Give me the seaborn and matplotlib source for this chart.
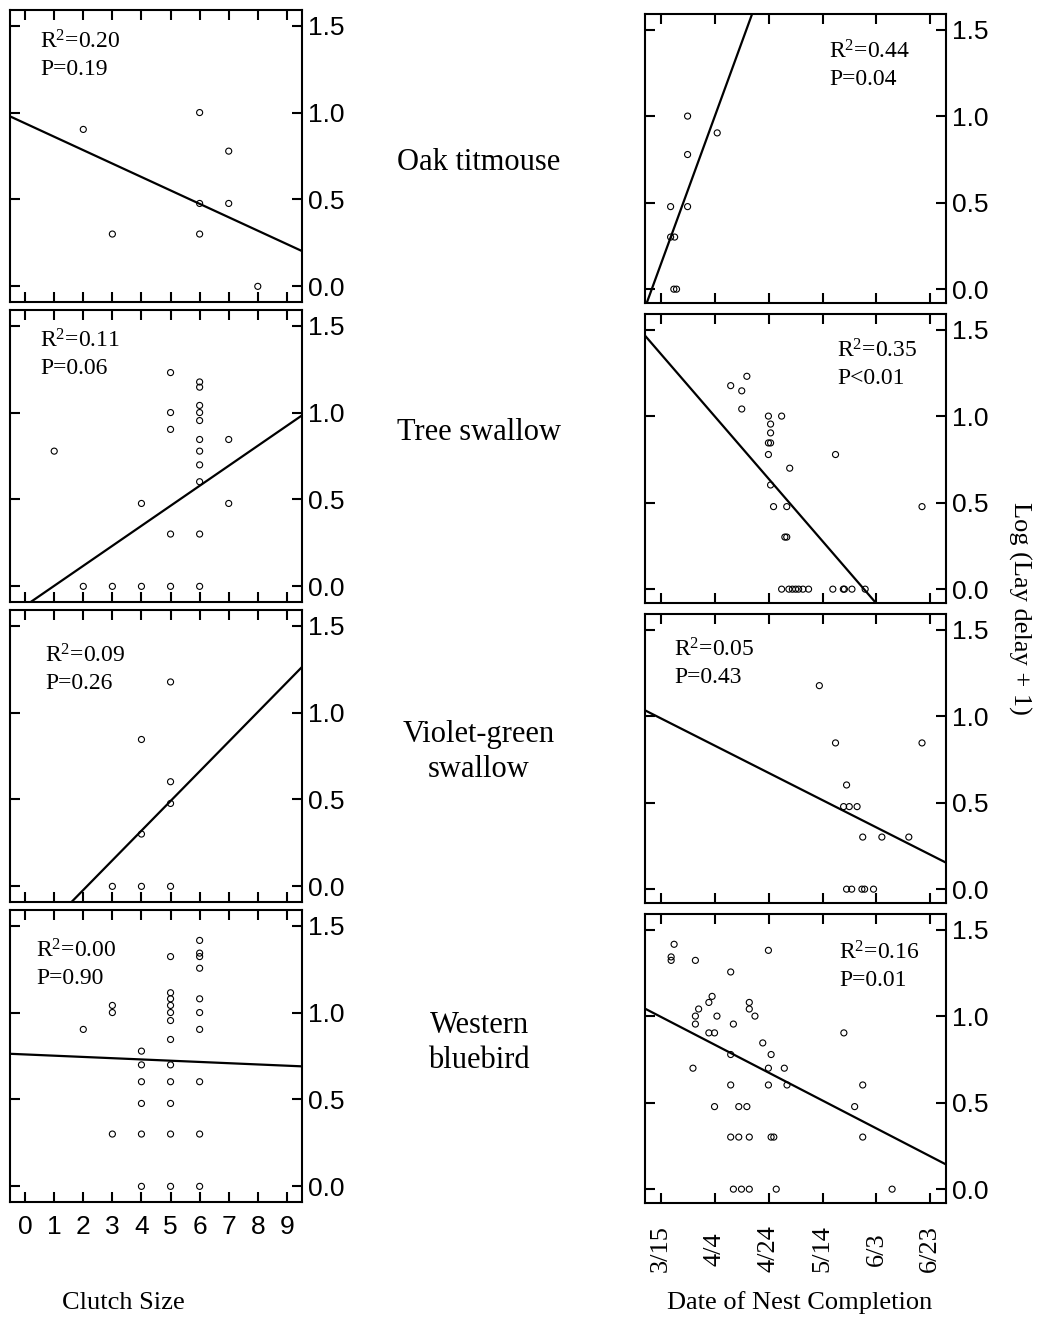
import numpy as np
import pandas as pd
import matplotlib
matplotlib.use("Agg")
import matplotlib.pyplot as plt
import seaborn as sns

# ---------------- data ----------------
species = ["Oak titmouse", "Tree swallow", "Violet-green\nswallow", "Western\nbluebird"]

# Clutch size panels (x = clutch size, y = log(lay delay + 1))
clutch_oak_x = [2, 3, 6, 6, 6, 7, 7, 8]
clutch_oak_y = [0.903, 0.301, 1.000, 0.477, 0.301, 0.778, 0.477, 0.000]

clutch_tree_x = [1, 2, 3, 4, 4, 5, 5, 5, 5, 5, 6, 6, 6, 6, 6, 6, 6, 6, 6, 6, 6, 7, 7]
clutch_tree_y = [0.778, 0, 0, 0, 0.477, 1.230, 1.0, 0.903, 0.301, 0,
                 1.176, 1.146, 1.041, 1.0, 0.954, 0.845, 0.778, 0.699, 0.602, 0.301, 0,
                 0.845, 0.477]

clutch_vgs_x = [3, 4, 4, 4, 5, 5, 5, 5]
clutch_vgs_y = [0, 0, 0.301, 0.845, 0, 0.477, 0.602, 1.176]

clutch_wb_x = [2, 3, 3, 3, 4, 4, 4, 4, 4, 4,
               5, 5, 5, 5, 5, 5, 5, 5, 5, 5, 5, 5,
               6, 6, 6, 6, 6, 6, 6, 6, 6, 6]
clutch_wb_y = [0.903, 1.041, 1.0, 0.301, 0.778, 0.699, 0.602, 0.477, 0.301, 0,
               1.322, 1.114, 1.079, 1.041, 1.0, 0.954, 0.845, 0.699, 0.602, 0.477, 0.301, 0,
               1.415, 1.342, 1.322, 1.255, 1.079, 1.0, 0.903, 0.602, 0.301, 0]

# Date panels (x = day of year of nest completion)
date_oak_x = [77.6, 77.6, 79.1, 78.8, 79.8, 83.9, 83.9, 83.9, 94.9]
date_oak_y = [0.477, 0.301, 0.301, 0, 0, 1.0, 0.778, 0.477, 0.903]

date_tree_x = [99.9, 104.0, 105.9, 104.0, 113.9, 118.8, 114.7, 114.7, 113.9, 114.7,
               113.9, 121.8, 138.8, 114.7, 115.8, 120.7, 120.0, 120.7, 170.9,
               118.8, 121.5, 122.8, 124.0, 125.1, 126.7, 128.8, 137.8, 141.7, 142.1, 144.9, 149.8]
date_tree_y = [1.176, 1.146, 1.230, 1.041, 1.0, 1.0, 0.954, 0.903, 0.845, 0.845,
               0.778, 0.699, 0.778, 0.602, 0.477, 0.477, 0.301, 0.301, 0.477,
               0, 0, 0, 0, 0, 0, 0, 0, 0, 0, 0, 0]

date_vgs_x = [132.8, 138.8, 170.9, 142.9, 141.8, 143.9, 146.8, 148.9, 156.0, 166.0,
              142.9, 144.8, 148.6, 149.6, 152.9]
date_vgs_y = [1.176, 0.845, 0.845, 0.602, 0.477, 0.477, 0.477, 0.301, 0.301, 0.301,
              0, 0, 0, 0, 0]

date_wb_x = [78.9, 77.8, 77.8, 86.8, 113.9, 99.9, 93.0, 91.8, 106.8, 106.8,
             88.0, 86.8, 94.8, 108.9, 86.8, 100.9, 91.8, 93.9, 141.9, 111.8,
             99.9, 114.9, 85.9, 113.9, 119.8, 99.9, 113.9, 120.8, 148.9,
             93.9, 102.9, 105.9, 145.9, 99.9, 102.9, 106.8, 114.9, 115.9, 148.9,
             100.9, 103.9, 106.8, 116.8, 159.8]
date_wb_y = [1.415, 1.342, 1.322, 1.322, 1.380, 1.255, 1.114, 1.079, 1.079, 1.041,
             1.041, 1.0, 1.0, 1.0, 0.954, 0.954, 0.903, 0.903, 0.903, 0.845,
             0.778, 0.778, 0.699, 0.699, 0.699, 0.602, 0.602, 0.602, 0.602,
             0.477, 0.477, 0.477, 0.477, 0.301, 0.301, 0.301, 0.301, 0.301, 0.301,
             0, 0, 0, 0, 0]

# Regression lines (intercept, slope)
clutch_fit = [(0.938, -0.0772), (-0.112, 0.1151), (-0.362, 0.1706), (0.759, -0.0072)]
date_fit = [(-3.015, 0.0427), (2.693, -0.01803), (1.570, -0.00788), (1.592, -0.00806)]

clutch_stats = ["R$^{2}$=0.20\nP=0.19", "R$^{2}$=0.11\nP=0.06",
                "R$^{2}$=0.09\nP=0.26", "R$^{2}$=0.00\nP=0.90"]
date_stats = ["R$^{2}$=0.44\nP=0.04", "R$^{2}$=0.35\nP<0.01",
              "R$^{2}$=0.05\nP=0.43", "R$^{2}$=0.16\nP=0.01"]

clutch_ticks = [0, 1, 2, 3, 4, 5, 6, 7, 8, 9]
date_ticks = [74, 94, 114, 134, 154, 174]
date_ticklabels = ["3/15", "4/4", "4/24", "5/14", "6/3", "6/23"]
y_ticks = [0.0, 0.5, 1.0, 1.5]
y_ticklabels = ["0.0", "0.5", "1.0", "1.5"]

clutch_x = [clutch_oak_x, clutch_tree_x, clutch_vgs_x, clutch_wb_x]
clutch_y = [clutch_oak_y, clutch_tree_y, clutch_vgs_y, clutch_wb_y]
date_x = [date_oak_x, date_tree_x, date_vgs_x, date_wb_x]
date_y = [date_oak_y, date_tree_y, date_vgs_y, date_wb_y]

# ---------------- style ----------------
sns.set_theme(style="ticks")
plt.rcParams["font.family"] = ["Liberation Sans", "DejaVu Sans"]
plt.rcParams.update({
    "text.color": "black", "axes.labelcolor": "black",
    "xtick.color": "black", "ytick.color": "black",
    "axes.edgecolor": "black",
    "mathtext.fontset": "custom",
    "mathtext.rm": "Liberation Serif",
    "mathtext.it": "Liberation Serif:italic",
    "mathtext.bf": "Liberation Serif:bold",
})
SERIF = ["Liberation Serif", "DejaVu Serif"]

W, H = 1039, 1322
fig = plt.figure(figsize=(W / 100, H / 100), dpi=100)
fig.patch.set_facecolor("white")

clutch_xlim = (-0.52, 9.52)
date_xlim = (68.1, 179.8)

# stat text positions (axes fraction)
clutch_txt = [(0.103, 0.93), (0.103, 0.934), (0.12, 0.882), (0.089, 0.899)]
date_txt = [(0.611, 0.909), (0.638, 0.912), (0.096, 0.916), (0.645, 0.905)]


def style_axes(ax):
    for s in ax.spines.values():
        s.set_visible(True)
        s.set_linewidth(1.5)
        s.set_color("black")
    ax.set_facecolor("white")
    ax.tick_params(axis="both", direction="in", length=7, width=1.5, color="black",
                   top=True, bottom=True, left=True, right=True,
                   labelleft=False, labelright=True, labeltop=False,
                   labelcolor="black")
    ax.tick_params(axis="y", labelsize=19, pad=4)
    ax.set_yticks(y_ticks)
    ax.set_yticklabels(y_ticklabels)
    ax.set_xlabel("")
    ax.set_ylabel("")
    ax.grid(False)


for r in range(4):
    # ---- left: clutch size ----
    top = 10 + 300 * r
    axl = fig.add_axes([10 / W, 1 - (top + 292) / H, 292 / W, 292 / H])
    dfl = pd.DataFrame({"x": clutch_x[r], "y": clutch_y[r]})
    sns.scatterplot(data=dfl, x="x", y="y", ax=axl, marker="o", s=19,
                    facecolor="none", edgecolor="black", linewidth=0.8, zorder=3)
    b0, b1 = clutch_fit[r]
    lx = np.array(clutch_xlim)
    sns.lineplot(x=lx, y=b0 + b1 * lx, ax=axl, color="black", linewidth=1.6)
    axl.set_xlim(*clutch_xlim)
    axl.set_ylim(-0.09, 1.59)
    style_axes(axl)
    axl.set_xticks(clutch_ticks)
    if r == 3:
        axl.set_xticklabels([str(t) for t in clutch_ticks])
        axl.tick_params(axis="x", labelsize=19, pad=9, labelbottom=True)
    else:
        axl.tick_params(axis="x", labelbottom=False)
    tx, ty = clutch_txt[r]
    axl.text(tx, ty, clutch_stats[r], transform=axl.transAxes, ha="left", va="top",
             fontsize=17, family=SERIF, linespacing=1.35)

    # ---- right: date of nest completion ----
    top = 14 + 300 * r
    axr = fig.add_axes([645 / W, 1 - (top + 289) / H, 301 / W, 289 / H])
    dfr = pd.DataFrame({"x": date_x[r], "y": date_y[r]})
    sns.scatterplot(data=dfr, x="x", y="y", ax=axr, marker="o", s=19,
                    facecolor="none", edgecolor="black", linewidth=0.8, zorder=3)
    b0, b1 = date_fit[r]
    lx = np.array(date_xlim)
    sns.lineplot(x=lx, y=b0 + b1 * lx, ax=axr, color="black", linewidth=1.6)
    axr.set_xlim(*date_xlim)
    axr.set_ylim(-0.08, 1.59)
    style_axes(axr)
    axr.set_xticks(date_ticks)
    if r == 3:
        axr.set_xticklabels(date_ticklabels, rotation=90, family=SERIF, fontsize=19)
        axr.tick_params(axis="x", pad=33, labelbottom=True)
        for lbl in axr.get_xticklabels():
            lbl.set_va("center")
    else:
        axr.tick_params(axis="x", labelbottom=False)
    tx, ty = date_txt[r]
    axr.text(tx, ty, date_stats[r], transform=axr.transAxes, ha="left", va="top",
             fontsize=17, family=SERIF, linespacing=1.35)

# species labels in the middle
species_y = [162, 432, 752, 1043]
for name, yp in zip(species, species_y):
    fig.text(479 / W, 1 - yp / H, name, ha="center", va="center", fontsize=22,
             family=SERIF, linespacing=1.25)

fig.text(123 / W, 1 - 1303 / H, "Clutch Size", ha="center", va="center",
         fontsize=19, family=SERIF)
fig.text(800 / W, 1 - 1303 / H, "Date of Nest Completion", ha="center", va="center",
         fontsize=19, family=SERIF)
fig.text(1020 / W, 1 - 608 / H, "Log (Lay delay + 1)", ha="center", va="center",
         rotation=270, fontsize=19, family=SERIF)

fig.savefig("out.png", dpi=100, facecolor="white")
